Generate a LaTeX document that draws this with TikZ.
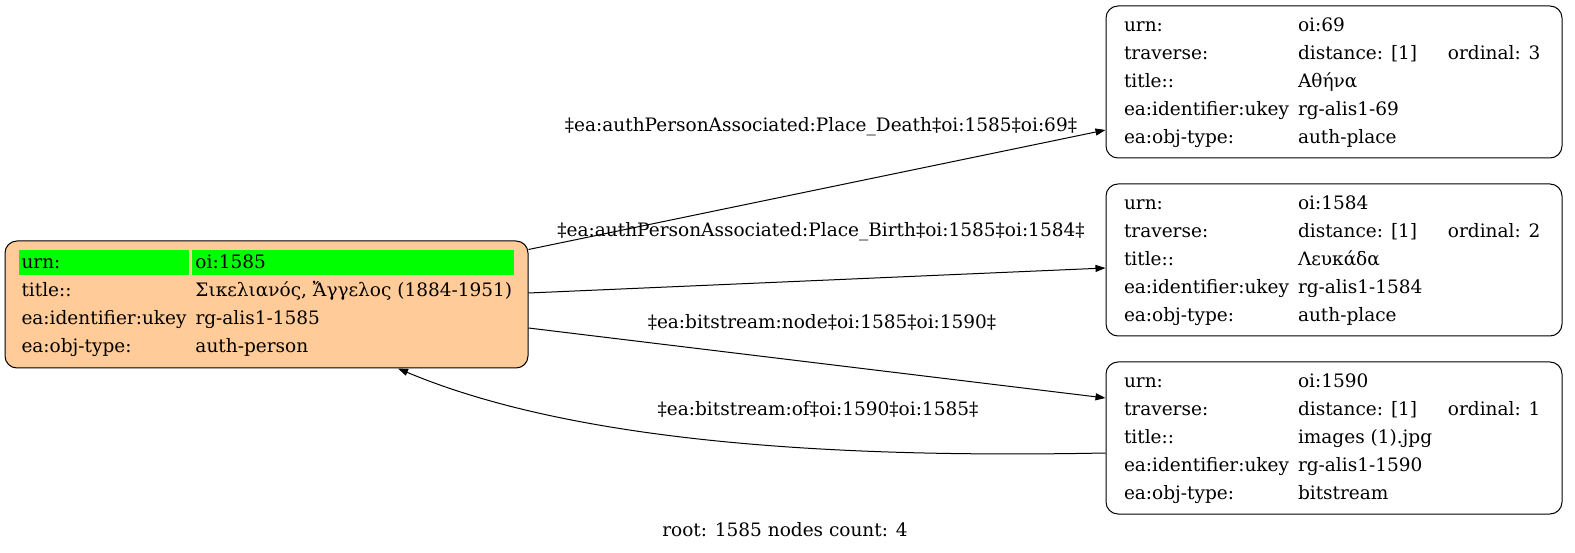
\documentclass[tikz,border=0pt]{standalone}
\usepackage{fontspec}
\setmainfont{DejaVu Serif}
\usepackage{xcolor}
\usepackage{tikz}
\usetikzlibrary{arrows.meta}
\definecolor{peach}{HTML}{FFCC99}
\definecolor{urngreen}{HTML}{00FF00}
\newcommand{\fld}[2]{\makebox[#1][l]{\hspace{3pt}#2}}
\newcommand{\gfld}[2]{{\setlength{\fboxsep}{0pt}\colorbox{urngreen}{\rule[-7.4pt]{0pt}{25pt}\fld{#1}{#2}}}}
\tikzset{
  rec/.style={draw, rounded corners=12pt, inner sep=0pt, line width=1pt,
    font=\fontsize{18.5}{28}\selectfont},
  edge/.style={line width=1pt, -{Triangle[length=10pt,width=7pt]}},
  elabel/.style={inner sep=0pt, font=\fontsize{18.5}{22}\selectfont}
}

\begin{document}
\begin{tikzpicture}[x=1pt,y=-1pt]
\useasboundingbox (0,0) rectangle (1575,553);
\node[rec, fill=peach, minimum width=523pt, minimum height=127pt] (p1585) at (266.5,304.5) {%
\begin{tabular}{@{}l@{\hspace{3pt}}l@{}}
\gfld{171pt}{urn:} & \gfld{322pt}{oi:1585}\\
\fld{171pt}{title::} & \fld{322pt}{Σικελιανός, Ἄγγελος (1884-1951)}\\
\fld{171pt}{ea:identifier:ukey} & \fld{322pt}{rg-alis1-1585}\\
\fld{171pt}{ea:obj-type:} & \fld{322pt}{auth-person}
\end{tabular}};
\node[rec, minimum width=456pt, minimum height=152pt] (p69) at (1334,82) {%
\begin{tabular}{@{}l@{}l@{}l@{}}
\fld{174pt}{urn:} & \fld{150pt}{oi:69} & \fld{102pt}{}\\
\fld{174pt}{traverse:} & \fld{150pt}{distance: [1]} & \fld{102pt}{ordinal: 3}\\
\fld{174pt}{title::} & \fld{150pt}{Αθήνα} & \\
\fld{174pt}{ea:identifier:ukey} & \fld{150pt}{rg-alis1-69} & \\
\fld{174pt}{ea:obj-type:} & \fld{150pt}{auth-place} &
\end{tabular}};
\node[rec, minimum width=456pt, minimum height=152pt] (p1584) at (1334,260) {%
\begin{tabular}{@{}l@{}l@{}l@{}}
\fld{174pt}{urn:} & \fld{150pt}{oi:1584} & \fld{102pt}{}\\
\fld{174pt}{traverse:} & \fld{150pt}{distance: [1]} & \fld{102pt}{ordinal: 2}\\
\fld{174pt}{title::} & \fld{150pt}{Λευκάδα} & \\
\fld{174pt}{ea:identifier:ukey} & \fld{150pt}{rg-alis1-1584} & \\
\fld{174pt}{ea:obj-type:} & \fld{150pt}{auth-place} &
\end{tabular}};
\node[rec, minimum width=456pt, minimum height=152pt] (p1590) at (1334,438) {%
\begin{tabular}{@{}l@{}l@{}l@{}}
\fld{174pt}{urn:} & \fld{150pt}{oi:1590} & \fld{102pt}{}\\
\fld{174pt}{traverse:} & \fld{150pt}{distance: [1]} & \fld{102pt}{ordinal: 1}\\
\fld{174pt}{title::} & \fld{150pt}{images (1).jpg} & \\
\fld{174pt}{ea:identifier:ukey} & \fld{150pt}{rg-alis1-1590} & \\
\fld{174pt}{ea:obj-type:} & \fld{150pt}{bitstream} &
\end{tabular}};
\draw[edge] ([yshift=-9pt]p1585.north east) -- ([yshift=-48pt]p69.west);
\draw[edge] ([yshift=11.5pt]p1585.east) -- ([yshift=-8pt]p1584.west);
\draw[edge] ([yshift=-23.5pt]p1585.east) -- ([yshift=40pt]p1590.west);
\draw[edge] ([yshift=-15pt]p1590.west) .. controls (850,458) and (580,445) .. ([xshift=131.5pt]p1585.south);
\node[elabel] (lDeath) at (821,127) {‡ea:authPersonAssociated:Place\_Death‡oi:1585‡oi:69‡};
\node[elabel] (lBirth) at (821,232) {‡ea:authPersonAssociated:Place\_Birth‡oi:1585‡oi:1584‡};
\node[elabel] (lNode) at (822,322) {‡ea:bitstream:node‡oi:1585‡oi:1590‡};
\node[elabel] (lOf) at (818,409) {‡ea:bitstream:of‡oi:1590‡oi:1585‡};
\node[elabel] (caption) at (785,530) {root: 1585 nodes count: 4};
\end{tikzpicture}
\end{document}
